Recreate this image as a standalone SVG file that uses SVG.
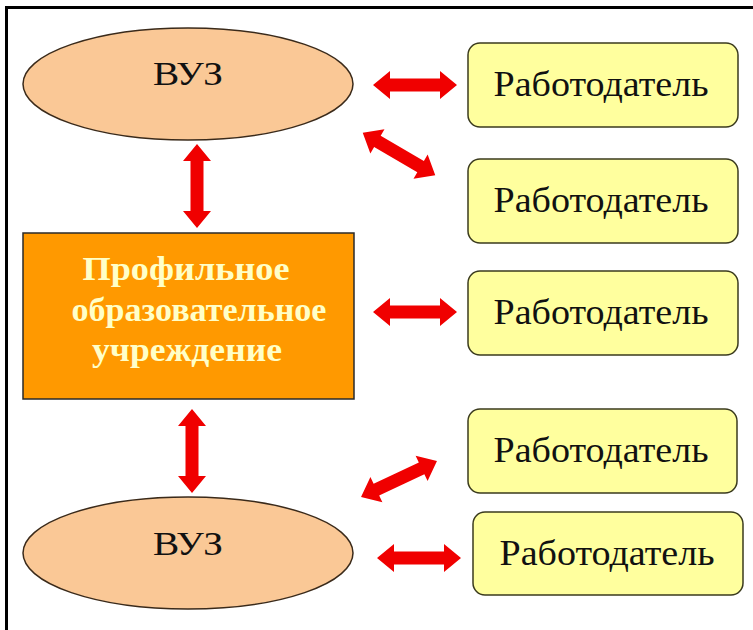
<svg xmlns="http://www.w3.org/2000/svg" width="753" height="630" viewBox="0 0 753 630">
<style>
.vuz{fill:#FAC896;stroke:#3a2a1a;stroke-width:1.5}
.emp{fill:#FFFF9E;stroke:#3b3b1e;stroke-width:1.5}
.org{fill:#FF9900;stroke:#2a2a2a;stroke-width:1.5}
.t{font-family:"Liberation Serif","Times New Roman",serif;fill:#111;text-anchor:middle}
.tv{font-size:33px}
.te{font-size:35px}
.to{font-size:33px;font-weight:bold;fill:#FFFFC8}
.arr{fill:#F00000}
</style>
<defs>
<path id="dbl" d="M -42 0 L -25 -14 L -25 -6.5 L 25 -6.5 L 25 -14 L 42 0 L 25 14 L 25 6.5 L -25 6.5 L -25 14 Z"/>
</defs>
<rect width="753" height="630" fill="#fff"/>
<g id="frame" stroke="#000" stroke-width="3">
<line x1="6.5" y1="6" x2="6.5" y2="630"/>
<line x1="5" y1="7.5" x2="753" y2="7.5"/>
</g>
<g id="connectors" class="arr">
<use href="#dbl" transform="translate(197,186) rotate(90)"/>
<use href="#dbl" transform="translate(192,451) rotate(90)"/>
<use href="#dbl" transform="translate(415,85)"/>
<use href="#dbl" transform="translate(399,154) rotate(30.3)"/>
<use href="#dbl" transform="translate(415,312)"/>
<use href="#dbl" transform="translate(399,479) rotate(-25.3)"/>
<use href="#dbl" transform="translate(419,558)"/>
</g>
<g id="vuz1">
<ellipse class="vuz" cx="188" cy="84" rx="165" ry="56"/>
<text class="t tv" x="188" y="85" textLength="70" lengthAdjust="spacingAndGlyphs">ВУЗ</text>
</g>
<g id="school">
<rect class="org" x="23" y="233" width="331" height="166"/>
<text class="t to" x="186" y="280" textLength="207" lengthAdjust="spacingAndGlyphs">Профильное</text>
<text class="t to" x="199" y="321" textLength="255" lengthAdjust="spacingAndGlyphs">образовательное</text>
<text class="t to" x="187" y="361" textLength="190" lengthAdjust="spacingAndGlyphs">учреждение</text>
</g>
<g id="vuz2">
<ellipse class="vuz" cx="188" cy="553" rx="165" ry="56"/>
<text class="t tv" x="188" y="555" textLength="70" lengthAdjust="spacingAndGlyphs">ВУЗ</text>
</g>
<g id="emp1">
<rect class="emp" x="468" y="43" width="270" height="84" rx="12"/>
<text class="t te" x="601" y="96" textLength="215" lengthAdjust="spacingAndGlyphs">Работодатель</text>
</g>
<g id="emp2">
<rect class="emp" x="468" y="159" width="270" height="84" rx="12"/>
<text class="t te" x="601" y="212" textLength="215" lengthAdjust="spacingAndGlyphs">Работодатель</text>
</g>
<g id="emp3">
<rect class="emp" x="468" y="271" width="270" height="84" rx="12"/>
<text class="t te" x="601" y="324" textLength="215" lengthAdjust="spacingAndGlyphs">Работодатель</text>
</g>
<g id="emp4">
<rect class="emp" x="468" y="409" width="269" height="84" rx="12"/>
<text class="t te" x="601" y="462" textLength="215" lengthAdjust="spacingAndGlyphs">Работодатель</text>
</g>
<g id="emp5">
<rect class="emp" x="473" y="512" width="270" height="83" rx="12"/>
<text class="t te" x="607" y="565" textLength="215" lengthAdjust="spacingAndGlyphs">Работодатель</text>
</g>
</svg>
